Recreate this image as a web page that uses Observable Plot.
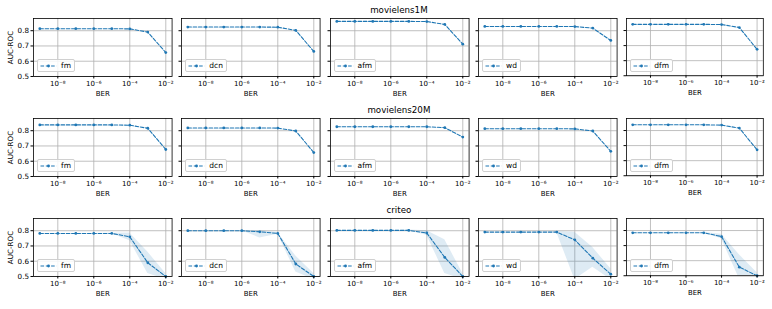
<!DOCTYPE html>
<html>
<head>
<meta charset="utf-8">
<script src="https://cdn.jsdelivr.net/npm/d3@7"></script>
<script src="https://cdn.jsdelivr.net/npm/@observablehq/plot@0.6"></script>
<style>
  html, body { margin: 0; padding: 0; background: white; }
  #root { position: relative; width: 772px; height: 309px; overflow: hidden; font-family: "DejaVu Sans", sans-serif; }
  .panel { position: absolute; }
  .title { position: absolute; font-size: 8.7px; color: #000; transform: translate(-50%, -50%); white-space: nowrap; }
  .legend { position: absolute; background: rgba(255,255,255,0.85); border: 0.7px solid #d0d0d0; border-radius: 2px;
            font-size: 7.5px; color: #000; display: flex; align-items: center; padding: 1px 3px 1px 2px; box-sizing: border-box; }
  .legend svg { margin-right: 4px; }
</style>
</head>
<body>
<div id="root"></div>
<script>
// ---- data ----
const bers = [1e-9, 1e-8, 1e-7, 1e-6, 1e-5, 1e-4, 1e-3, 1e-2];
const datasets = ["movielens1M", "movielens20M", "criteo"];
const models = ["fm", "dcn", "afm", "wd", "dfm"];
const xTicks = [1e-8, 1e-6, 1e-4, 1e-2];
const xTickLabels = ["10\u207B\u2078", "10\u207B\u2076", "10\u207B\u2074", "10\u207B\u00B2"];
const yTicks = [0.5, 0.6, 0.7, 0.8];
const yTickLabels = ["0.5", "0.6", "0.7", "0.8"];

// mean AUC-ROC, one row per model (fm, dcn, afm, wd, dfm)
const movielens1M = [
  [0.813, 0.813, 0.813, 0.813, 0.813, 0.812, 0.791, 0.657],
  [0.824, 0.824, 0.824, 0.824, 0.824, 0.823, 0.802, 0.664],
  [0.861, 0.861, 0.861, 0.861, 0.861, 0.860, 0.841, 0.712],
  [0.828, 0.828, 0.828, 0.828, 0.828, 0.827, 0.817, 0.736],
  [0.841, 0.841, 0.841, 0.841, 0.841, 0.840, 0.820, 0.675]
];
const movielens20M = [
  [0.838, 0.838, 0.838, 0.838, 0.838, 0.836, 0.816, 0.677],
  [0.818, 0.818, 0.818, 0.818, 0.818, 0.817, 0.798, 0.657],
  [0.826, 0.826, 0.826, 0.826, 0.826, 0.826, 0.820, 0.758],
  [0.813, 0.813, 0.813, 0.813, 0.813, 0.812, 0.798, 0.665],
  [0.838, 0.838, 0.838, 0.838, 0.838, 0.836, 0.816, 0.672]
];
const criteo = [
  [0.782, 0.782, 0.782, 0.782, 0.782, 0.760, 0.590, 0.500],
  [0.800, 0.800, 0.800, 0.800, 0.793, 0.782, 0.582, 0.500],
  [0.802, 0.802, 0.802, 0.802, 0.802, 0.785, 0.625, 0.500],
  [0.791, 0.791, 0.791, 0.791, 0.791, 0.740, 0.620, 0.515],
  [0.785, 0.785, 0.785, 0.785, 0.785, 0.760, 0.557, 0.500]
];
// shaded spread (lower / upper) for criteo
const criteoLow = [
  [0.782, 0.782, 0.782, 0.782, 0.780, 0.735, 0.520, 0.480],
  [0.800, 0.800, 0.800, 0.800, 0.753, 0.777, 0.530, 0.480],
  [0.802, 0.802, 0.802, 0.802, 0.800, 0.770, 0.520, 0.480],
  [0.791, 0.791, 0.791, 0.791, 0.789, 0.480, 0.560, 0.480],
  [0.785, 0.785, 0.785, 0.785, 0.783, 0.745, 0.480, 0.480]
];
const criteoHigh = [
  [0.782, 0.782, 0.782, 0.782, 0.784, 0.785, 0.660, 0.520],
  [0.800, 0.800, 0.800, 0.800, 0.800, 0.787, 0.635, 0.520],
  [0.802, 0.802, 0.802, 0.802, 0.804, 0.800, 0.740, 0.520],
  [0.791, 0.791, 0.791, 0.791, 0.793, 0.790, 0.690, 0.550],
  [0.785, 0.785, 0.785, 0.785, 0.787, 0.775, 0.640, 0.520]
];
const means = [movielens1M, movielens20M, criteo];
const lows = [null, null, criteoLow];
const highs = [null, null, criteoHigh];

// ---- layout ----
const plotLefts = [33, 181.3, 329.6, 478, 626.3];
const plotTops = [18.3, 118.3, 218.3];
const pw = 138.6, ph = 58;
const blue = "#1f77b4";
const root = document.getElementById("root");

datasets.forEach((ds, r) => {
  models.forEach((m, c) => {
    const rows = bers.map((b, i) => ({
      ber: b,
      auc: means[r][c][i],
      lo: lows[r] ? lows[r][c][i] : means[r][c][i],
      hi: highs[r] ? highs[r][c][i] : means[r][c][i]
    }));
    const mL = c === 0 ? 33 : 1, mR = 9, mT = 1, mB = 30;
    const marks = [
      Plot.gridX(xTicks, {stroke: "#b0b0b0", strokeOpacity: 1, strokeWidth: 0.8}),
      Plot.gridY(yTicks, {stroke: "#b0b0b0", strokeOpacity: 1, strokeWidth: 0.8}),
      Plot.areaY(rows, {x: "ber", y1: "lo", y2: "hi", fill: blue, fillOpacity: 0.15, clip: true}),
      Plot.line(rows, {x: "ber", y: "auc", stroke: blue, strokeWidth: 1.1, strokeDasharray: "3.6,1.7", clip: true}),
      Plot.dot(rows, {x: "ber", y: "auc", fill: blue, r: 1.4}),
      Plot.axisX({ticks: xTicks, tickFormat: d => xTickLabels[xTicks.indexOf(d)], tickSize: 2.5, tickPadding: 2,
                  fontSize: 7, label: "BER", labelAnchor: "center", labelArrow: "none", labelOffset: 20}),
      c === 0
        ? Plot.axisY({ticks: yTicks, tickFormat: d => yTickLabels[yTicks.indexOf(d)], tickSize: 2.5, tickPadding: 2,
                      fontSize: 7.2, label: "AUC-ROC", labelAnchor: "center", labelArrow: "none", labelOffset: 26})
        : Plot.axisY({ticks: yTicks, tickFormat: () => "", tickSize: 2.5, label: null}),
      Plot.frame({stroke: "#000", strokeWidth: 0.8})
    ];
    const svg = Plot.plot({
      width: pw + mL + mR,
      height: ph + mT + mB,
      marginLeft: mL, marginRight: mR, marginTop: mT, marginBottom: mB,
      x: {type: "log", domain: [Math.pow(10, -9.35), Math.pow(10, -1.65)], label: null},
      y: {domain: [0.5, 0.88], label: null},
      style: {fontFamily: "DejaVu Sans", fontSize: "7.3px", background: "transparent", overflow: "visible", color: "#000"},
      marks
    });
    const wrap = document.createElement("div");
    wrap.className = "panel";
    wrap.style.left = (plotLefts[c] - mL) + "px";
    wrap.style.top = (plotTops[r] - mT) + "px";
    wrap.appendChild(svg);
    root.appendChild(wrap);

    // legend
    const lg = document.createElement("div");
    lg.className = "legend";
    lg.style.left = (plotLefts[c] + 4) + "px";
    lg.style.top = (plotTops[r] + ph - 4 - 13) + "px";
    lg.style.height = "13px";
    lg.innerHTML = `<svg width="17" height="6"><line x1="0.5" y1="3" x2="16.5" y2="3" stroke="${blue}" stroke-width="1.1" stroke-dasharray="3.6,1.7"/><circle cx="8.5" cy="3" r="1.4" fill="${blue}"/></svg><span>${m}</span>`;
    root.appendChild(lg);
  });
  const t = document.createElement("div");
  t.className = "title";
  t.textContent = ds;
  t.style.left = (plotLefts[2] + pw / 2) + "px";
  t.style.top = (plotTops[r] - 8) + "px";
  root.appendChild(t);
});
</script>
</body>
</html>
